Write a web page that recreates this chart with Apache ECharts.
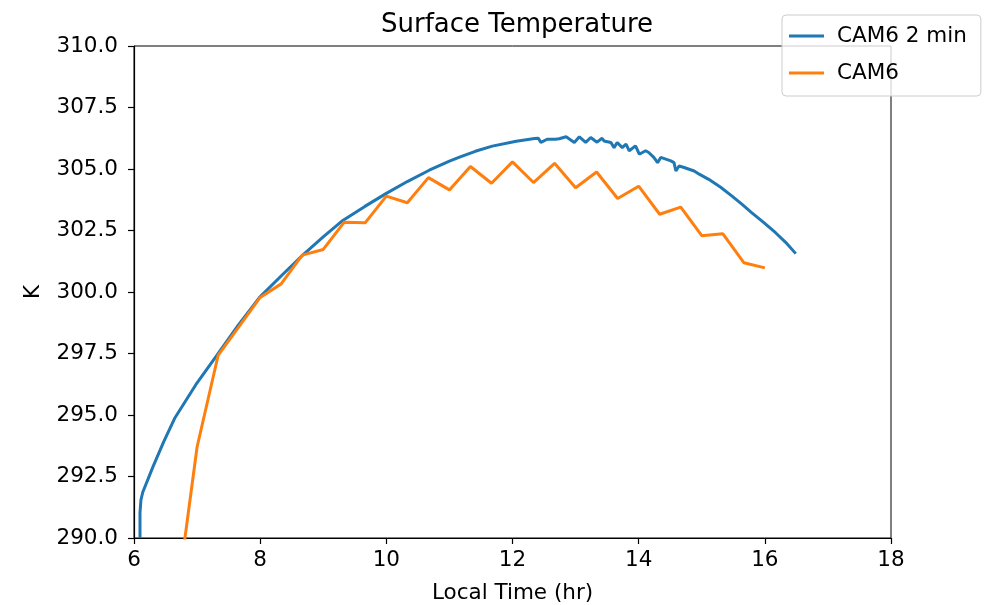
<!DOCTYPE html>
<html>
<head>
<meta charset="utf-8">
<script src="https://cdn.jsdelivr.net/npm/echarts@6/dist/echarts.min.js"></script>
<style>
  html, body { margin: 0; padding: 0; background: #fff; }
  #main { width: 989px; height: 605px; }
</style>
</head>
<body>
<div id="main"></div>
<script>
// tick labels
var xTicks = [6, 8, 10, 12, 14, 16, 18];
var yTicks = [290, 292.5, 295, 297.5, 300, 302.5, 305, 307.5, 310];

// CAM6 2 min (local time hr, K)
var cam6_2min = [
  [6.095, 290.0], [6.095, 291.02], [6.11, 291.55], [6.14, 291.87], [6.30, 292.89],
  [6.47, 293.91], [6.65, 294.89], [6.98, 296.23], [7.31, 297.41], [7.65, 298.64],
  [7.99, 299.78], [8.34, 300.67], [8.67, 301.49], [8.99, 302.22], [9.31, 302.91],
  [9.66, 303.48], [10.0, 304.01], [10.34, 304.50], [10.68, 304.95], [11.0, 305.32],
  [11.16, 305.48], [11.41, 305.72], [11.68, 305.93], [12.06, 306.13], [12.35, 306.24],
  [12.41, 306.25], [12.45, 306.08], [12.55, 306.21], [12.68, 306.21], [12.74, 306.23],
  [12.85, 306.31], [12.98, 306.08], [13.06, 306.31], [13.16, 306.08], [13.24, 306.28],
  [13.34, 306.09], [13.42, 306.25], [13.45, 306.14], [13.56, 306.08], [13.61, 305.87],
  [13.66, 306.08], [13.74, 305.87], [13.80, 306.01], [13.85, 305.74], [13.95, 305.94],
  [14.01, 305.60], [14.11, 305.74], [14.16, 305.67], [14.24, 305.47], [14.30, 305.26],
  [14.35, 305.47], [14.43, 305.40], [14.51, 305.33], [14.56, 305.26], [14.59, 304.92],
  [14.64, 305.12], [14.72, 305.06], [14.80, 304.99], [14.88, 304.92], [14.96, 304.79],
  [15.11, 304.58], [15.30, 304.26], [15.48, 303.90], [15.64, 303.56], [15.79, 303.23],
  [15.98, 302.83], [16.17, 302.41], [16.33, 302.02], [16.49, 301.56]
];

// CAM6, every 20 min
var cam6Time = [6.667, 7.0, 7.333, 7.667, 8.0, 8.333, 8.667, 9.0, 9.333, 9.667,
  10.0, 10.333, 10.667, 11.0, 11.333, 11.667, 12.0, 12.333, 12.667, 13.0,
  13.333, 13.667, 14.0, 14.333, 14.667, 15.0, 15.333, 15.667, 16.0];
var cam6Temp = [287.3, 293.7, 297.42, 298.6, 299.78, 300.33, 301.50, 301.73, 302.84, 302.82,
  303.90, 303.63, 304.65, 304.15, 305.10, 304.42, 305.29, 304.45, 305.23, 304.24,
  304.88, 303.80, 304.30, 303.16, 303.45, 302.29, 302.37, 301.19, 300.98];

var myChart = echarts.init(document.getElementById('main'));
var font = 'DejaVu Sans';

option = {
  animation: false,
  textStyle: { fontFamily: font },
  title: {
    text: 'Surface Temperature',
    left: 512,
    textAlign: 'center',
    top: 7,
    textStyle: { fontFamily: font, fontSize: 26, fontWeight: 'normal', color: '#000' }
  },
  legend: {
    left: 782,
    top: 15,
    orient: 'vertical',
    icon: 'rect',
    itemWidth: 35,
    itemHeight: 3,
    itemGap: 13,
    padding: [9, 14, 11, 7],
    borderColor: '#cccccc',
    borderWidth: 1,
    borderRadius: 4,
    backgroundColor: 'rgba(255,255,255,0.8)',
    textStyle: { fontFamily: font, fontSize: 21.5, lineHeight: 24, color: '#000', padding: [0, 0, 0, 8] },
    data: ['CAM6 2 min', 'CAM6']
  },
  grid: {
    left: 134,
    right: 98,
    top: 46,
    bottom: 67,
    outerBoundsMode: 'none',
    show: true,
    borderColor: '#000',
    borderWidth: 1
  },
  xAxis: {
    type: 'value',
    min: xTicks[0],
    max: xTicks[xTicks.length - 1],
    interval: 2,
    name: 'Local Time (hr)',
    nameLocation: 'middle',
    nameGap: 44,
    nameTextStyle: { fontFamily: font, fontSize: 21.5, color: '#000' },
    axisLine: { lineStyle: { color: '#000', width: 1.2 } },
    axisTick: { length: 6, lineStyle: { color: '#000', width: 1.2 } },
    axisLabel: { fontFamily: font, fontSize: 21.5, color: '#000', margin: 11 },
    splitLine: { show: false }
  },
  yAxis: {
    type: 'value',
    min: yTicks[0],
    max: yTicks[yTicks.length - 1],
    interval: 2.5,
    name: 'K',
    nameLocation: 'middle',
    nameGap: 90,
    nameRotate: 90,
    nameTextStyle: { fontFamily: font, fontSize: 21.5, color: '#000' },
    axisLine: { show: true, lineStyle: { color: '#000', width: 1.2 } },
    axisTick: { show: true, length: 6, lineStyle: { color: '#000', width: 1.2 } },
    axisLabel: {
      fontFamily: font, fontSize: 21.5, color: '#000', margin: 16,
      formatter: function (v) { return v.toFixed(1); }
    },
    splitLine: { show: false }
  },
  series: [{
    name: 'CAM6 2 min',
    type: 'line',
    data: cam6_2min,
    showSymbol: false,
    color: '#1f77b4',
    lineStyle: { width: 3 },
    clip: true
  }, {
    name: 'CAM6',
    type: 'line',
    data: cam6Time.map(function (t, i) { return [t, cam6Temp[i]]; }),
    showSymbol: false,
    color: '#ff7f0e',
    lineStyle: { width: 3 },
    clip: true
  }]
};
myChart.setOption(option);
window.addEventListener("resize", function () {
  myChart.resize();
});
</script>
</body>
</html>
